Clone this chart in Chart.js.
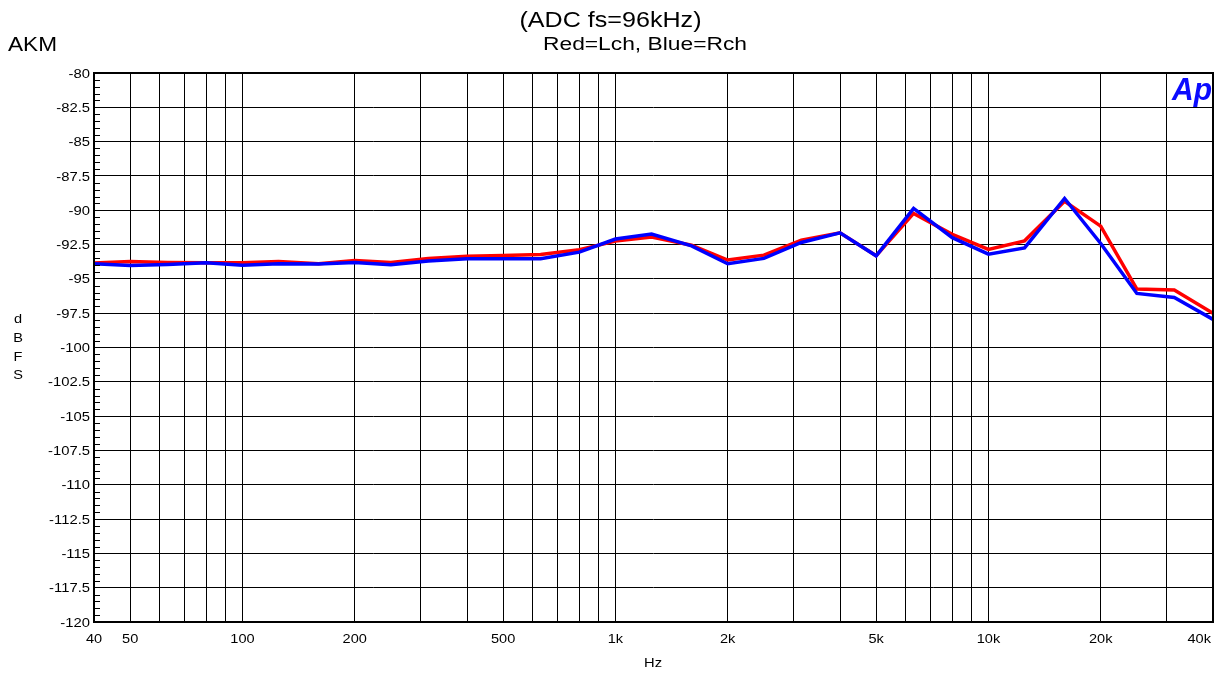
<!DOCTYPE html>
<html>
<head>
<meta charset="utf-8">
<script src="https://cdn.jsdelivr.net/npm/chart.js@4"></script>
<style>
  body { margin: 0; background: #fff; }
  canvas { display: block; }
</style>
</head>
<body>
<canvas id="chart" width="1225" height="676"></canvas>
<script>
// 1/3 octave frequencies (Hz)
const freqs = [40, 50, 63, 80, 100, 125, 160, 200, 250, 315, 400, 500, 630, 800,
    1000, 1250, 1600, 2000, 2500, 3150, 4000, 5000, 6300, 8000, 10000, 12500,
    16000, 20000, 25000, 31500, 40000];

// Lch (red)
const lch = [-93.85, -93.73, -93.80, -93.83, -93.83, -93.73, -93.90, -93.66, -93.80, -93.51,
    -93.36, -93.30, -93.22, -92.88, -92.25, -91.95, -92.55, -93.63, -93.27, -92.18,
    -91.64, -93.32, -90.23, -91.76, -92.85, -92.23, -89.34, -91.16, -95.74, -95.81, -97.50];

// Rch (blue)
const rch = [-93.90, -94.02, -93.95, -93.83, -94.00, -93.90, -93.92, -93.80, -93.97, -93.70,
    -93.53, -93.54, -93.54, -93.05, -92.10, -91.74, -92.60, -93.90, -93.51, -92.35,
    -91.64, -93.32, -89.87, -92.00, -93.20, -92.74, -89.14, -92.42, -96.06, -96.35, -97.95];

// x grid lines and labels
const xGrid = [40, 50, 60, 70, 80, 90, 100, 200, 300, 400, 500, 600, 700, 800, 900,
    1000, 2000, 3000, 4000, 5000, 6000, 7000, 8000, 9000, 10000, 20000, 30000, 40000];
const xLabelValues = [40, 50, 100, 200, 500, 1000, 2000, 5000, 10000, 20000, 40000];
const xLabelText = ['40', '50', '100', '200', '500', '1k', '2k', '5k', '10k', '20k', '40k'];

const FONT = '"Liberation Sans", Arial, sans-serif';

function toPoints(values) {
    return freqs.map((f, i) => ({ x: f, y: values[i] }));
}

// text with horizontal stretch (the reference text is drawn a bit wide)
function drawText(ctx, text, x, y, font, align, sx) {
    ctx.save();
    ctx.font = font;
    ctx.textAlign = 'left';
    ctx.textBaseline = 'alphabetic';
    const w = ctx.measureText(text).width * sx;
    const left = align === 'center' ? x - w / 2 : (align === 'right' ? x - w : x);
    ctx.translate(left, y);
    ctx.scale(sx, 1);
    ctx.fillText(text, 0, 0);
    ctx.restore();
    return w;
}

// same, but stretched to fit a given width
function fitText(ctx, text, x, y, font, align, width) {
    ctx.save();
    ctx.font = font;
    const sx = width / ctx.measureText(text).width;
    ctx.restore();
    drawText(ctx, text, x, y, font, align, sx);
}

const decorations = {
    id: 'decorations',
    afterDraw(chart) {
        const ctx = chart.ctx;
        const area = chart.chartArea;
        const xs = chart.scales.x;
        const ys = chart.scales.y;

        ctx.save();
        // frame
        ctx.strokeStyle = '#000';
        ctx.lineWidth = 2;
        ctx.strokeRect(area.left, area.top, area.right - area.left, area.bottom - area.top);

        // minor ticks inside the left edge
        ctx.lineWidth = 1;
        ctx.beginPath();
        for (let v = -120; v <= -80; v += 0.5) {
            if (Math.abs(v / 2.5 - Math.round(v / 2.5)) < 1e-6) continue;
            const y = Math.round(ys.getPixelForValue(v)) + 0.5;
            ctx.moveTo(area.left, y);
            ctx.lineTo(area.left + 6, y);
        }
        ctx.stroke();

        ctx.fillStyle = '#000';
        // y tick labels
        ys.ticks.forEach(t => {
            const y = ys.getPixelForValue(t.value);
            drawText(ctx, String(t.value), area.left - 4, y + 4.6, '13px ' + FONT, 'right', 1.14);
        });

        // x tick labels
        xLabelValues.forEach((v, i) => {
            ctx.font = '13px ' + FONT;
            const w = ctx.measureText(xLabelText[i]).width * 1.12;
            let x = xs.getPixelForValue(v);
            x = Math.min(x, area.right - 2 - w / 2);
            drawText(ctx, xLabelText[i], x, area.bottom + 21, '13px ' + FONT, 'center', 1.12);
        });

        // titles
        fitText(ctx, '(ADC fs=96kHz)', 610.5, 26.5, '22px ' + FONT, 'center', 182);
        fitText(ctx, 'Red=Lch, Blue=Rch', 645, 50, '17.5px ' + FONT, 'center', 204);
        fitText(ctx, 'AKM', 8, 50.5, '20.5px ' + FONT, 'left', 49);

        // axis titles
        ['d', 'B', 'F', 'S'].forEach((c, i) => {
            drawText(ctx, c, 18, 323 + i * 18.8, '13px ' + FONT, 'center', 1.12);
        });
        fitText(ctx, 'Hz', 653, 667, '13px ' + FONT, 'center', 18);

        // Ap logo
        ctx.fillStyle = '#0a0aff';
        fitText(ctx, 'Ap', 1172, 100, 'italic bold 32px ' + FONT, 'left', 40);
        ctx.restore();
    }
};

const ctx = document.getElementById('chart').getContext('2d');
new Chart(ctx, {
    type: 'line',
    data: {
        datasets: [
            {
                label: 'Lch',
                data: toPoints(lch),
                borderColor: '#ff0000',
                borderWidth: 3.5,
                pointRadius: 0,
                tension: 0,
                order: 2
            },
            {
                label: 'Rch',
                data: toPoints(rch),
                borderColor: '#0000ff',
                borderWidth: 3.5,
                pointRadius: 0,
                tension: 0,
                order: 1
            }
        ]
    },
    options: {
        responsive: false,
        animation: false,
        layout: { padding: { left: 0, right: 12, top: 73, bottom: 0 } },
        plugins: {
            legend: { display: false },
            tooltip: { enabled: false }
        },
        scales: {
            x: {
                type: 'logarithmic',
                min: 40,
                max: 40000,
                afterBuildTicks: scale => {
                    scale.ticks = xGrid.map(v => ({ value: v }));
                },
                afterFit: scale => {
                    scale.height = 54;
                    scale.paddingLeft = 0;
                    scale.paddingRight = 0;
                },
                ticks: { display: false },
                grid: { color: '#000', lineWidth: 1, drawTicks: false },
                border: { display: false }
            },
            y: {
                min: -120,
                max: -80,
                afterFit: scale => {
                    scale.width = 94;
                    scale.paddingTop = 0;
                    scale.paddingBottom = 0;
                },
                ticks: { display: false, stepSize: 2.5 },
                grid: { color: '#000', lineWidth: 1, drawTicks: false },
                border: { display: false }
            }
        }
    },
    plugins: [decorations]
});
</script>
</body>
</html>
